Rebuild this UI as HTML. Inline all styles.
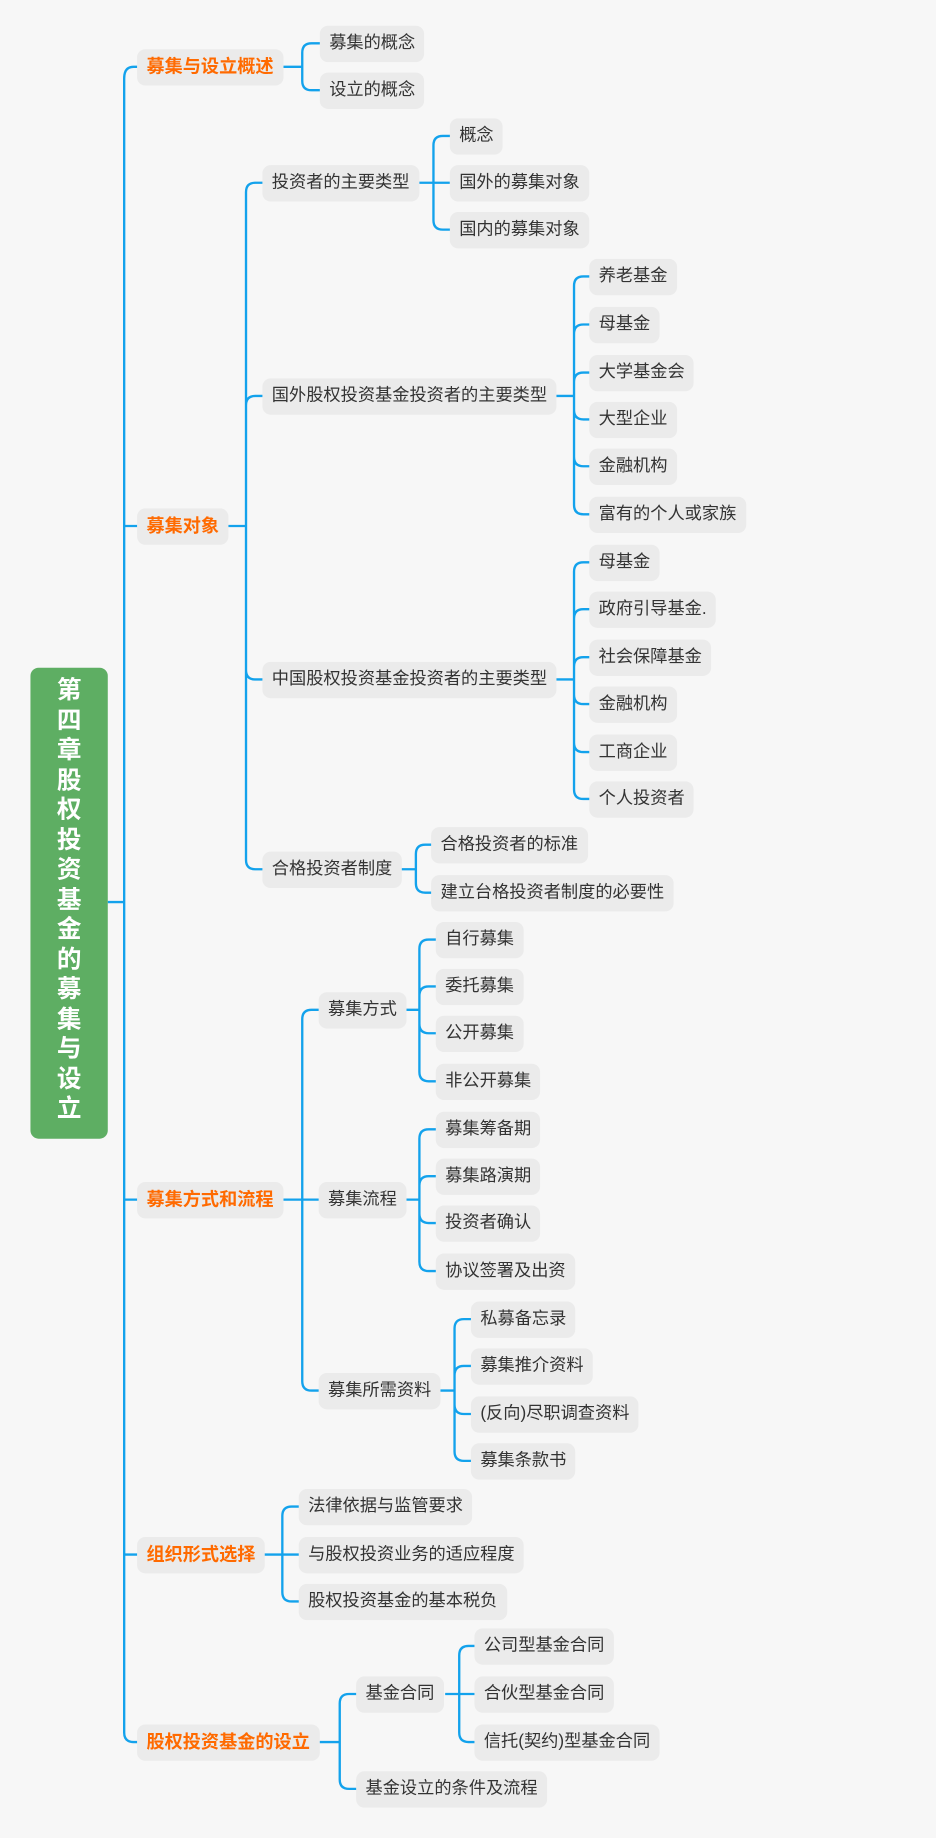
<!DOCTYPE html>
<html><head><meta charset="utf-8"><style>
html,body{margin:0;padding:0;width:936px;height:1838px;overflow:hidden;background:#f7f7f7;}
#c{position:absolute;left:0;top:0;width:799px;height:1569px;transform:scale(1.1715);transform-origin:0 0;font-family:"Liberation Sans","Noto Sans CJK SC",sans-serif;}
svg{position:absolute;left:0;top:0;}
.n{position:absolute;height:31px;line-height:31px;padding:0 8px;background:#ebebeb;border-radius:7px;font-size:14.7px;color:#333;white-space:nowrap;}
.t{color:#ff6a00;font-weight:bold;font-size:15.5px;}
#root{position:absolute;left:26px;top:570px;width:66px;height:402px;background:#5eae63;border-radius:7px;color:#fff;font-weight:bold;font-size:21px;text-align:center;line-height:25.5px;padding-top:7px;box-sizing:border-box;}
</style></head><body><div id="c">
<svg width="799" height="1569" fill="none" stroke="#13a2ec" stroke-width="2">
<path d="M92 770H106"/>
<path d="M106 67V1479Q106 1487 114 1487H120"/>
<path d="M106 67Q106 57 114 57H120"/>
<path d="M106 449H120M106 1024H120M106 1327H120"/>
<path d="M230 57H258M258 57V45Q258 37 266 37H275M258 57V69Q258 77 266 77H275"/>
<path d="M180 449H210M210 449V164Q210 156 218 156H226M210 449V346Q210 338 218 338H226M210 449V572Q210 580 218 580H226M210 449V734Q210 742 218 742H226"/>
<path d="M340 156H384M370 156V124Q370 116 378 116H386M370 156V188Q370 196 378 196H386"/>
<path d="M460 338H490"/>
<path d="M490 338V244Q490 236 498 236H505M490 338V285Q490 277 498 277H505M490 338V326Q490 318 498 318H505M490 338V350Q490 358 498 358H505M490 338V390Q490 398 498 398H505M490 338V431Q490 439 498 439H505"/>
<path d="M460 580H490"/>
<path d="M490 580V488Q490 480 498 480H505M490 580V528Q490 520 498 520H505M490 580V569Q490 561 498 561H505M490 580V593Q490 601 498 601H505M490 580V634Q490 642 498 642H505M490 580V674Q490 682 498 682H505"/>
<path d="M330 742H355M355 742V729Q355 721 363 721H370M355 742V754Q355 762 363 762H370"/>
<path d="M230 1024H258M258 1024V870Q258 862 266 862H274M258 1024V1179Q258 1187 266 1187H274M258 1024H274"/>
<path d="M330 862H358M358 862V810Q358 802 366 802H374M358 862V850Q358 842 366 842H374M358 862V874Q358 882 366 882H374M358 862V915Q358 923 366 923H374"/>
<path d="M330 1024H358M358 1024V972Q358 964 366 964H374M358 1024V1012Q358 1004 366 1004H374M358 1024V1036Q358 1044 366 1044H374M358 1024V1077Q358 1085 366 1085H374"/>
<path d="M355 1187H388M388 1187V1134Q388 1126 396 1126H404M388 1187V1174Q388 1166 396 1166H404M388 1187V1199Q388 1207 396 1207H404M388 1187V1239Q388 1247 396 1247H404"/>
<path d="M210 1327H241M241 1327V1294Q241 1286 249 1286H257M241 1327H257M241 1327V1359Q241 1367 249 1367H257"/>
<path d="M260 1487H290M290 1487V1454Q290 1446 298 1446H306M290 1487V1519Q290 1527 298 1527H306"/>
<path d="M380 1446H392M392 1446V1413Q392 1405 400 1405H407M392 1446H407M392 1446V1479Q392 1487 400 1487H407"/>
</svg>
<div id="root">第<br>四<br>章<br>股<br>权<br>投<br>资<br>基<br>金<br>的<br>募<br>集<br>与<br>设<br>立</div>
<div class="n t" style="left:117px;top:42px">募集与设立概述</div>
<div class="n" style="left:273px;top:22px">募集的概念</div>
<div class="n" style="left:273px;top:62px">设立的概念</div>
<div class="n t" style="left:117px;top:434px">募集对象</div>
<div class="n" style="left:224px;top:141px">投资者的主要类型</div>
<div class="n" style="left:384px;top:101px">概念</div>
<div class="n" style="left:384px;top:141px">国外的募集对象</div>
<div class="n" style="left:384px;top:181px">国内的募集对象</div>
<div class="n" style="left:224px;top:323px">国外股权投资基金投资者的主要类型</div>
<div class="n" style="left:503px;top:221px">养老基金</div>
<div class="n" style="left:503px;top:262px">母基金</div>
<div class="n" style="left:503px;top:303px">大学基金会</div>
<div class="n" style="left:503px;top:343px">大型企业</div>
<div class="n" style="left:503px;top:383px">金融机构</div>
<div class="n" style="left:503px;top:424px">富有的个人或家族</div>
<div class="n" style="left:224px;top:565px">中国股权投资基金投资者的主要类型</div>
<div class="n" style="left:503px;top:465px">母基金</div>
<div class="n" style="left:503px;top:505px">政府引导基金.</div>
<div class="n" style="left:503px;top:546px">社会保障基金</div>
<div class="n" style="left:503px;top:586px">金融机构</div>
<div class="n" style="left:503px;top:627px">工商企业</div>
<div class="n" style="left:503px;top:667px">个人投资者</div>
<div class="n" style="left:224px;top:727px">合格投资者制度</div>
<div class="n" style="left:368px;top:706px">合格投资者的标准</div>
<div class="n" style="left:368px;top:747px">建立台格投资者制度的必要性</div>
<div class="n t" style="left:117px;top:1009px">募集方式和流程</div>
<div class="n" style="left:272px;top:847px">募集方式</div>
<div class="n" style="left:372px;top:787px">自行募集</div>
<div class="n" style="left:372px;top:827px">委托募集</div>
<div class="n" style="left:372px;top:867px">公开募集</div>
<div class="n" style="left:372px;top:908px">非公开募集</div>
<div class="n" style="left:272px;top:1009px">募集流程</div>
<div class="n" style="left:372px;top:949px">募集筹备期</div>
<div class="n" style="left:372px;top:989px">募集路演期</div>
<div class="n" style="left:372px;top:1029px">投资者确认</div>
<div class="n" style="left:372px;top:1070px">协议签署及出资</div>
<div class="n" style="left:272px;top:1172px">募集所需资料</div>
<div class="n" style="left:402px;top:1111px">私募备忘录</div>
<div class="n" style="left:402px;top:1151px">募集推介资料</div>
<div class="n" style="left:402px;top:1192px">(反向)尽职调查资料</div>
<div class="n" style="left:402px;top:1232px">募集条款书</div>
<div class="n t" style="left:117px;top:1312px">组织形式选择</div>
<div class="n" style="left:255px;top:1271px">法律依据与监管要求</div>
<div class="n" style="left:255px;top:1312px">与股权投资业务的适应程度</div>
<div class="n" style="left:255px;top:1352px">股权投资基金的基本税负</div>
<div class="n t" style="left:117px;top:1472px">股权投资基金的设立</div>
<div class="n" style="left:304px;top:1431px">基金合同</div>
<div class="n" style="left:304px;top:1512px">基金设立的条件及流程</div>
<div class="n" style="left:405px;top:1390px">公司型基金合同</div>
<div class="n" style="left:405px;top:1431px">合伙型基金合同</div>
<div class="n" style="left:405px;top:1472px">信托(契约)型基金合同</div>
</div></body></html>
